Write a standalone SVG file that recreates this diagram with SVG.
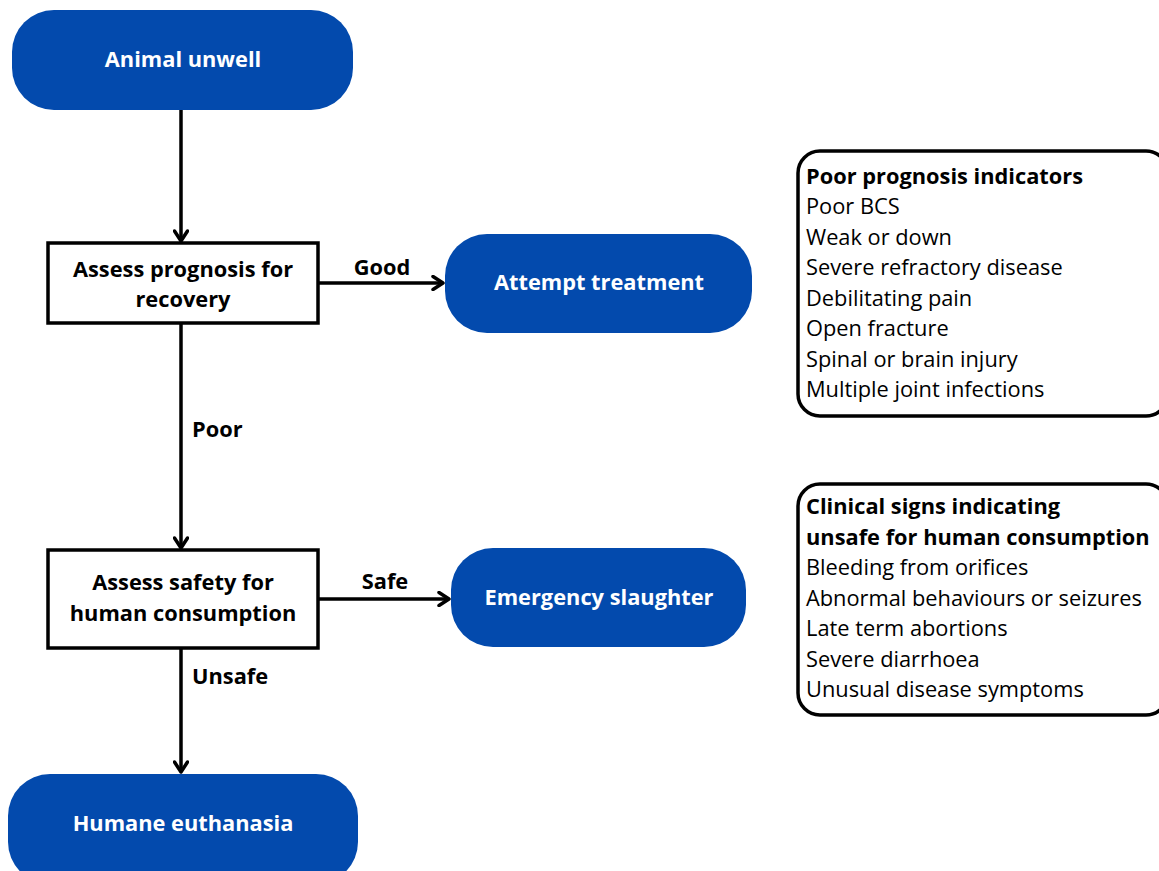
<svg xmlns="http://www.w3.org/2000/svg" width="1159" height="871" viewBox="0 0 1159 871">
<defs>
<marker id="arr" viewBox="0 0 14 16" refX="12" refY="8" markerWidth="14" markerHeight="16" markerUnits="userSpaceOnUse" orient="auto">
<path d="M2,1.5 L12,8 L2,14.5" fill="none" stroke="#000" stroke-width="3.5" stroke-linecap="round" stroke-linejoin="round"/>
</marker>
</defs>
<style>
.pill{fill:#034AAD;}
.pt{font-family:"Open Sans","Liberation Sans",sans-serif;font-weight:bold;font-size:21.8px;fill:#fff;text-anchor:middle;}
.box{fill:#fff;stroke:#000;stroke-width:3.5;}
.bt{font-family:"Open Sans","Liberation Sans",sans-serif;font-weight:bold;font-size:21.8px;fill:#000;text-anchor:middle;}
.lbl{font-family:"Open Sans","Liberation Sans",sans-serif;font-weight:bold;font-size:21.8px;fill:#000;}
.note{fill:#fff;stroke:#000;stroke-width:3.5;}
.nt{font-family:"Open Sans","Liberation Sans",sans-serif;font-size:21.8px;fill:#000;}
.nh{font-weight:bold;}
.con{stroke:#000;stroke-width:3.5;fill:none;marker-end:url(#arr);}
</style>
<rect width="1159" height="871" fill="#fff"/>
<g id="connectors">
<line class="con" x1="181" y1="110" x2="181" y2="241"/>
<line class="con" x1="318" y1="283" x2="443" y2="283"/>
<line class="con" x1="181" y1="323" x2="181" y2="548"/>
<line class="con" x1="318" y1="599" x2="449" y2="599"/>
<line class="con" x1="181" y1="648" x2="181" y2="772"/>
<text class="lbl" x="382" y="275" text-anchor="middle">Good</text>
<text class="lbl" x="192" y="437">Poor</text>
<text class="lbl" x="385" y="589" text-anchor="middle">Safe</text>
<text class="lbl" x="192" y="684">Unsafe</text>
</g>
<g id="n-animal">
<rect class="pill" x="12" y="10" width="341" height="100" rx="42"/>
<text class="pt" x="183" y="67">Animal unwell</text>
</g>
<g id="n-prognosis">
<rect class="box" x="48" y="243" width="270" height="80"/>
<text class="bt" x="183" y="277">Assess prognosis for</text>
<text class="bt" x="183" y="307">recovery</text>
</g>
<g id="n-treatment">
<rect class="pill" x="445" y="234" width="307" height="99" rx="42"/>
<text class="pt" x="599" y="290">Attempt treatment</text>
</g>
<g id="n-safety">
<rect class="box" x="48" y="550" width="270" height="98"/>
<text class="bt" x="183" y="590">Assess safety for</text>
<text class="bt" x="183" y="621">human consumption</text>
</g>
<g id="n-slaughter">
<rect class="pill" x="451" y="548" width="295" height="99" rx="42"/>
<text class="pt" x="599" y="605">Emergency slaughter</text>
</g>
<g id="n-euthanasia">
<rect class="pill" x="8" y="774" width="350" height="110" rx="42"/>
<text class="pt" x="183" y="831">Humane euthanasia</text>
</g>
<g id="n-poor-indicators">
<rect class="note" x="798" y="151" width="370" height="265" rx="22"/>
<text class="nt" x="806">
<tspan class="nh" x="806" y="184">Poor prognosis indicators</tspan>
<tspan x="806" y="214">Poor BCS</tspan>
<tspan x="806" y="245">Weak or down</tspan>
<tspan x="806" y="275">Severe refractory disease</tspan>
<tspan x="806" y="306">Debilitating pain</tspan>
<tspan x="806" y="336">Open fracture</tspan>
<tspan x="806" y="367">Spinal or brain injury</tspan>
<tspan x="806" y="397">Multiple joint infections</tspan>
</text>
</g>
<g id="n-clinical-signs">
<rect class="note" x="798" y="484" width="370" height="231" rx="22"/>
<text class="nt" x="806">
<tspan class="nh" x="806" y="514">Clinical signs indicating</tspan>
<tspan class="nh" x="806" y="545">unsafe for human consumption</tspan>
<tspan x="806" y="575">Bleeding from orifices</tspan>
<tspan x="806" y="606">Abnormal behaviours or seizures</tspan>
<tspan x="806" y="636">Late term abortions</tspan>
<tspan x="806" y="667">Severe diarrhoea</tspan>
<tspan x="806" y="697">Unusual disease symptoms</tspan>
</text>
</g>
</svg>
